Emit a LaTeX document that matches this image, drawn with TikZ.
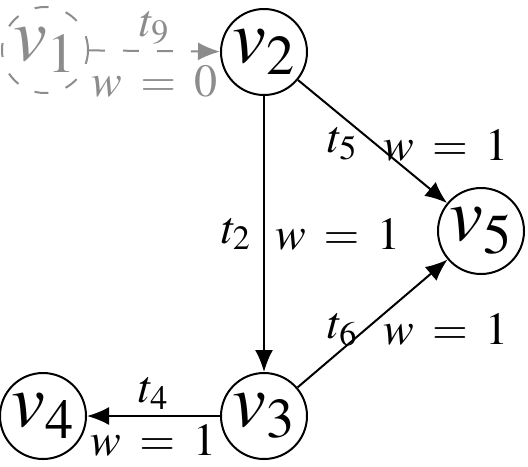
\documentclass[tikz,border=0pt]{standalone}
\usepackage{mathptmx}
\usepackage{tikz}
\usetikzlibrary{arrows.meta}

\begin{document}
\begin{tikzpicture}[
  x=0.5pt, y=-0.5pt,
  vtx/.style={
    circle, draw, line width=1pt,
    minimum size=43pt, inner sep=0pt,
    font=\fontsize{38}{40}\selectfont
  },
  ghost/.style={vtx, draw=black!45, text=black!45, dash pattern=on 7pt off 9pt},
  lbl/.style={font=\fontsize{23}{26}\selectfont, inner sep=1pt,
    execute at begin node={\thickmuskip=7mu\relax}},
  arr/.style={-{Latex[length=11pt,width=9pt]}, line width=1pt}
]
\useasboundingbox (0,0) rectangle (528,466);

\node[ghost] (v1) at (45,50) {$v_1$};
\node[vtx] (v2) at (264,52) {$v_2$};
\node[vtx] (v5) at (481,231) {$v_5$};
\node[vtx] (v3) at (264,416) {$v_3$};
\node[vtx] (v4) at (43,416) {$v_4$};

\draw[arr, draw=black!45, dash pattern=on 8pt off 9pt] (v1) --
  node[lbl, above=2pt, text=black!45] {$t_9$}
  node[lbl, below=6pt, text=black!45] {$w=0$} (v2);
\draw[arr] (v2) --
  node[lbl, left=5pt] {$t_2$}
  node[lbl, right=4pt] {$w=1$} (v3);
\draw[arr] (v2) --
  node[lbl, anchor=east, xshift=-6pt, yshift=-1pt] {$t_5$}
  node[lbl, anchor=west, xshift=4pt, yshift=-2pt] {$w=1$} (v5);
\draw[arr] (v3) --
  node[lbl, anchor=east, xshift=-6pt, yshift=-3pt] {$t_6$}
  node[lbl, anchor=west, xshift=4pt, yshift=-3pt] {$w=1$} (v5);
\draw[arr] (v3) --
  node[lbl, above=2pt] {$t_4$}
  node[lbl, below=3pt] {$w=1$} (v4);

\end{tikzpicture}
\end{document}
